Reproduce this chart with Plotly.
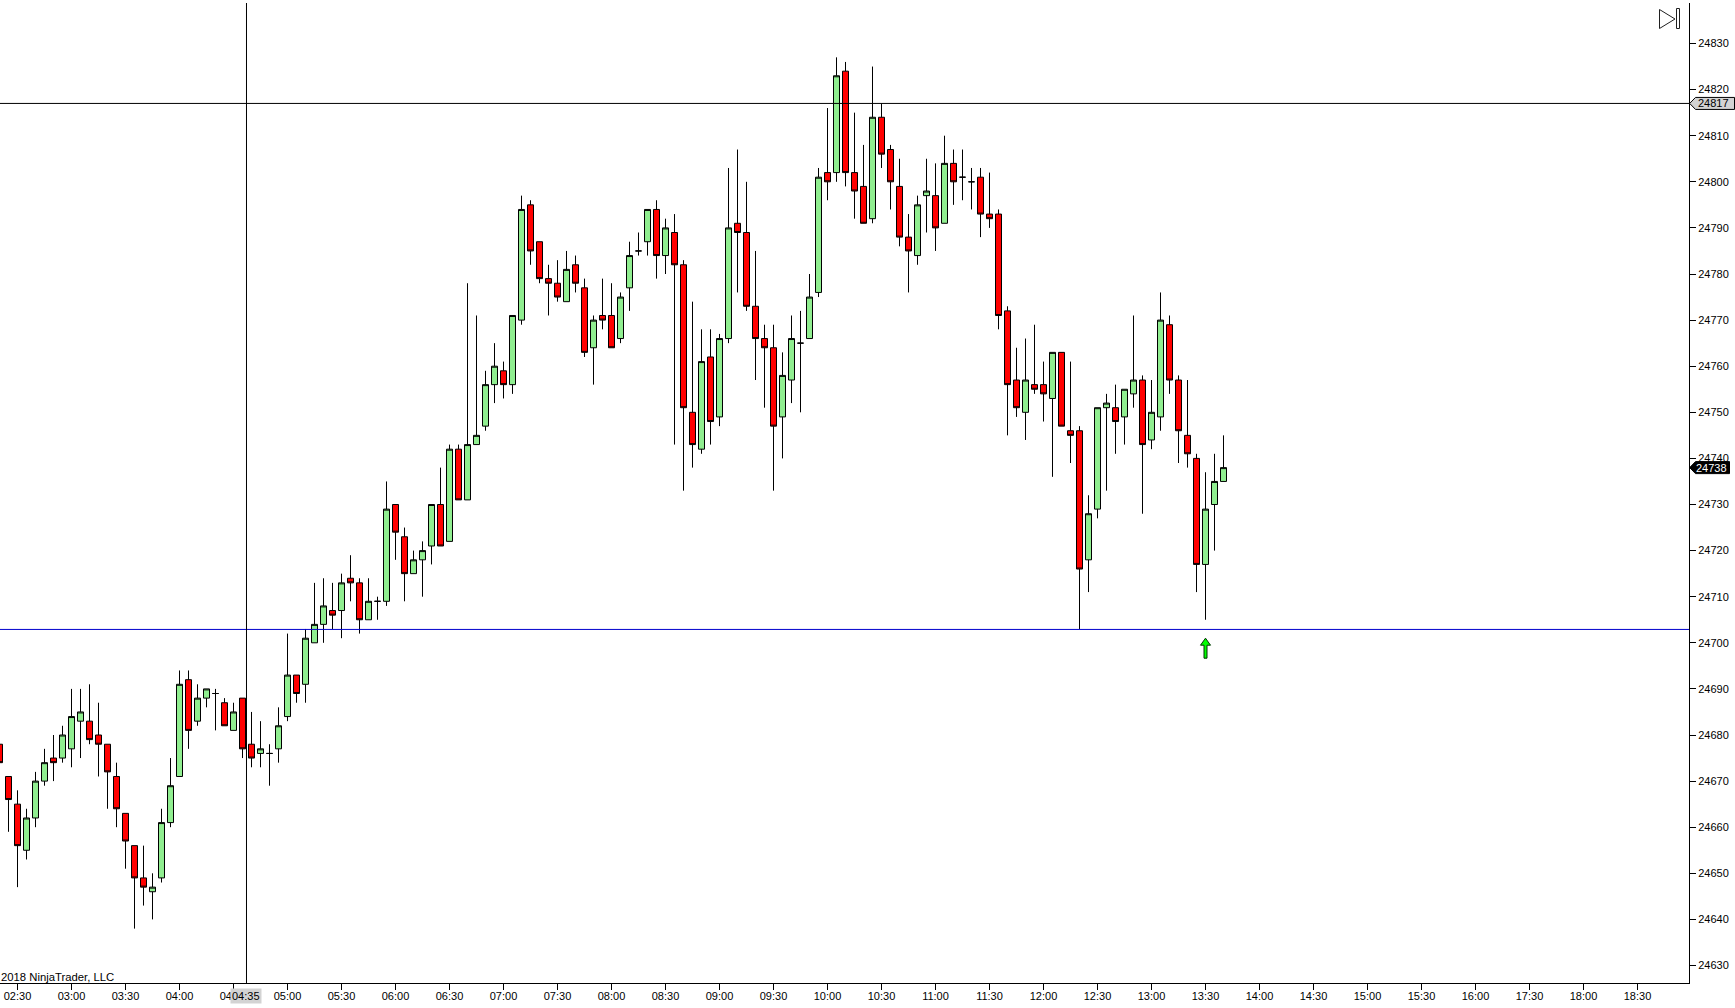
import pandas as pd
import plotly.graph_objects as go

# 5 minute bars, first bar 02:20, last bar 13:40
opens = [
    24678, 24671, 24665, 24655, 24662, 24670, 24675, 24675, 24677, 24683,
    24683, 24680, 24678, 24671, 24663, 24656, 24649, 24646, 24649, 24661,
    24671, 24692, 24683, 24688, 24689, 24687, 24681, 24688, 24678, 24676,
    24676, 24677, 24684, 24693, 24691, 24700, 24704, 24707, 24707, 24714,
    24713, 24705, 24709, 24709, 24730, 24723, 24715, 24718, 24721, 24730,
    24722, 24742, 24731, 24743, 24747, 24756, 24759, 24756, 24770, 24795,
    24787, 24779, 24778, 24774, 24782, 24777, 24764, 24771, 24771, 24766,
    24777, 24785, 24787, 24794, 24784, 24789, 24782, 24750, 24742, 24762,
    24749, 24766, 24791, 24789, 24773, 24766, 24764, 24749, 24757, 24765,
    24766, 24776, 24802, 24802, 24824, 24802, 24799, 24792, 24814, 24807,
    24799, 24788, 24784, 24797, 24797, 24791, 24804, 24801, 24800, 24801,
    24793, 24793, 24772, 24757, 24750, 24756, 24756, 24753, 24763, 24746,
    24746, 24718, 24729, 24751, 24751, 24749, 24754, 24757, 24744, 24749,
    24769, 24757, 24745, 24740, 24717, 24730, 24735,
]
highs = [
    24678, 24671, 24668, 24664, 24672, 24677, 24680, 24682, 24690, 24690,
    24691, 24687, 24678, 24674, 24663, 24656, 24656, 24650, 24664, 24675,
    24694, 24694, 24691, 24690, 24690, 24688, 24687, 24688, 24685, 24683,
    24678, 24686, 24702, 24693, 24703, 24713, 24714, 24713, 24715, 24719,
    24714, 24714, 24710, 24735, 24730, 24725, 24720, 24722, 24730, 24738,
    24743, 24743, 24778, 24771, 24759, 24765, 24761, 24771, 24797, 24796,
    24787, 24782, 24783, 24785, 24784, 24779, 24771, 24779, 24778, 24776,
    24787, 24789, 24794, 24796, 24792, 24793, 24783, 24774, 24768, 24768,
    24767, 24803, 24807, 24800, 24785, 24769, 24769, 24763, 24771, 24772,
    24780, 24803, 24816, 24827, 24826, 24815, 24808, 24825, 24817, 24808,
    24805, 24793, 24797, 24805, 24804, 24810, 24807, 24807, 24803, 24803,
    24802, 24794, 24773, 24764, 24766, 24769, 24761, 24763, 24763, 24761,
    24747, 24732, 24751, 24754, 24756, 24755, 24771, 24758, 24757, 24776,
    24771, 24758, 24757, 24741, 24737, 24741, 24745,
]
lows = [
    24674, 24659, 24647, 24653, 24660, 24669, 24670, 24674, 24673, 24675,
    24678, 24671, 24664, 24660, 24651, 24638, 24643, 24640, 24648, 24660,
    24671, 24677, 24682, 24686, 24681, 24682, 24681, 24675, 24673, 24673,
    24669, 24674, 24683, 24687, 24687, 24700, 24700, 24703, 24701, 24709,
    24702, 24705, 24705, 24708, 24718, 24709, 24715, 24710, 24717, 24721,
    24722, 24731, 24731, 24743, 24746, 24752, 24753, 24754, 24769, 24782,
    24778, 24771, 24774, 24774, 24776, 24762, 24756, 24768, 24764, 24765,
    24772, 24784, 24784, 24779, 24780, 24743, 24733, 24738, 24741, 24743,
    24747, 24765, 24776, 24772, 24757, 24751, 24733, 24740, 24752, 24750,
    24766, 24775, 24796, 24800, 24799, 24792, 24791, 24791, 24803, 24794,
    24786, 24776, 24782, 24789, 24785, 24791, 24795, 24796, 24794, 24788,
    24790, 24768, 24745, 24749, 24744, 24754, 24748, 24736, 24747, 24739,
    24703, 24711, 24727, 24733, 24741, 24743, 24751, 24728, 24742, 24746,
    24754, 24739, 24738, 24711, 24705, 24720, 24735,
]
closes = [
    24674, 24666, 24656, 24662, 24670, 24674, 24674, 24680, 24684, 24685,
    24679, 24678, 24672, 24664, 24657, 24649, 24647, 24647, 24661, 24669,
    24691, 24681, 24688, 24690, 24689, 24682, 24685, 24677, 24675, 24677,
    24676, 24682, 24693, 24689, 24701, 24704, 24708, 24706, 24713, 24713,
    24705, 24709, 24709, 24729, 24724, 24715, 24718, 24720, 24730, 24721,
    24742, 24731, 24743, 24745, 24756, 24760, 24756, 24771, 24794, 24785,
    24779, 24778, 24775, 24781, 24778, 24763, 24770, 24770, 24764, 24775,
    24784, 24785, 24794, 24784, 24790, 24782, 24751, 24743, 24761, 24748,
    24766, 24790, 24789, 24773, 24766, 24764, 24747, 24758, 24766, 24765,
    24775, 24801, 24800, 24823, 24802, 24798, 24791, 24814, 24806, 24800,
    24788, 24785, 24795, 24798, 24790, 24804, 24800, 24801, 24800, 24793,
    24792, 24771, 24756, 24751, 24757, 24755, 24754, 24763, 24747, 24745,
    24716, 24728, 24751, 24752, 24748, 24755, 24757, 24743, 24750, 24770,
    24757, 24746, 24741, 24717, 24729, 24735, 24738,
]

price_ticks = list(range(24630, 24831, 10))
time_ticks = [
    "02:30", "03:00", "03:30", "04:00", "04:30", "05:00", "05:30", "06:00",
    "06:30", "07:00", "07:30", "08:00", "08:30", "09:00", "09:30", "10:00",
    "10:30", "11:00", "11:30", "12:00", "12:30", "13:00", "13:30", "14:00",
    "14:30", "15:00", "15:30", "16:00", "17:30", "18:00", "18:30",
]

day = "2018-01-02 "
times = pd.date_range(day + "02:20", periods=len(opens), freq="5min")

crosshair_time = day + "04:37:13"
crosshair_label = "04:35"
crosshair_price = 24817
support_price = 24702.9
last_price = closes[-1]
signal_time = day + "13:30"
signal_price = 24701

fig = go.Figure()

fig.add_trace(go.Candlestick(
    x=times, open=opens, high=highs, low=lows, close=closes,
    increasing=dict(fillcolor="#90EE90", line=dict(color="black", width=1)),
    decreasing=dict(fillcolor="#FF0000", line=dict(color="black", width=1)),
    whiskerwidth=0,
    hoverinfo="skip",
    showlegend=False,
))

fig.update_xaxes(
    # 1.8 px per minute, so the wicks land on whole pixels
    range=[day + "02:20:16.667", day + "18:58:36.667"],
    rangeslider_visible=False,
    # the session break, the axis jumps from 16:00 to 17:30
    rangebreaks=[dict(bounds=[16.25, 17.25], pattern="hour")],
    tickvals=[day + t for t in time_ticks],
    ticktext=time_ticks,
    ticks="outside", ticklen=6, tickcolor="black", tickwidth=1,
    ticklabelstandoff=-3,
    showline=True, linecolor="black", linewidth=1,
    showgrid=False, zeroline=False,
    tickfont=dict(family="Liberation Sans", size=11, color="black"),
)
fig.update_yaxes(
    range=[24626.204, 24838.785],
    side="right",
    tickvals=price_ticks,
    tickformat="d",
    ticks="outside", ticklen=6, tickcolor="black", tickwidth=1,
    showline=True, linecolor="black", linewidth=1,
    showgrid=False, zeroline=False,
    tickfont=dict(family="Liberation Sans", size=11, color="black"),
)

# crosshair and support line
fig.add_shape(type="line", xref="paper", x0=0, x1=1, yref="y", y0=crosshair_price, y1=crosshair_price,
              line=dict(color="black", width=1))
fig.add_shape(type="line", xref="paper", x0=0, x1=1, yref="y", y0=support_price, y1=support_price,
              line=dict(color="#0000CD", width=1))
fig.add_shape(type="line", xref="x", x0=crosshair_time, x1=crosshair_time, yref="paper", y0=0, y1=1,
              line=dict(color="black", width=1))

# price tags on the right axis
fig.add_shape(type="path", xref="paper", yref="y", xsizemode="pixel", ysizemode="pixel",
              xanchor=1, yanchor=crosshair_price,
              path="M0.7,0 L6.5,6 L45.5,6 L45.5,-6 L6.5,-6 Z",
              fillcolor="#D3D3D3", line=dict(color="black", width=1))
fig.add_shape(type="path", xref="paper", yref="y", xsizemode="pixel", ysizemode="pixel",
              xanchor=1, yanchor=last_price,
              path="M0.7,0 L6.5,6 L40.5,6 L40.5,-6 L6.5,-6 Z",
              fillcolor="black", line=dict(color="black", width=1))

# buy arrow under the 13:30 bar
fig.add_shape(type="path", xref="x", yref="y", xsizemode="pixel", ysizemode="pixel",
              xanchor=signal_time, yanchor=signal_price,
              path="M0,0 L5,-7 L1.5,-7 L1.5,-20 L-1.5,-20 L-1.5,-7 L-5,-7 Z",
              fillcolor="#00FF00", line=dict(color="#003300", width=1))

# go to end of chart button
fig.add_shape(type="path", xref="paper", yref="paper", xsizemode="pixel", ysizemode="pixel",
              xanchor=1, yanchor=1, path="M-29.5,-6.5 L-14,-16 L-29.5,-25.5 Z",
              fillcolor="white", line=dict(color="#202020", width=1))
fig.add_shape(type="path", xref="paper", yref="paper", xsizemode="pixel", ysizemode="pixel",
              xanchor=1, yanchor=1, path="M-12.5,-5.5 L-9.5,-5.5 L-9.5,-25.5 L-12.5,-25.5 Z",
              fillcolor="white", line=dict(color="#202020", width=1))

font = dict(family="Liberation Sans", size=11, color="black")
fig.add_annotation(xref="paper", yref="y", x=1, y=crosshair_price, xanchor="left", xshift=8, borderpad=0,
                   text=str(crosshair_price), showarrow=False, font=font)
fig.add_annotation(xref="paper", yref="y", x=1, y=last_price, xanchor="left", xshift=6, borderpad=0,
                   text=str(last_price), showarrow=False, font=dict(font, color="white"))
fig.add_annotation(xref="x", yref="paper", x=crosshair_time, y=-0.01276, yanchor="middle", borderpad=1,
                   bgcolor="#D3D3D3", text=crosshair_label, showarrow=False, font=font)
fig.add_annotation(xref="paper", yref="paper", x=0, y=0.0064, xanchor="left", yanchor="middle", borderpad=0,
                   text="2018 NinjaTrader, LLC", showarrow=False, font=dict(font, size=11.3))

fig.update_layout(
    width=1735, height=1008,
    margin=dict(l=0, r=46, t=3, b=25),
    paper_bgcolor="white", plot_bgcolor="white",
    hovermode=False,
    dragmode=False,
    boxgap=1 / 3,
    boxgroupgap=0,
)

fig.write_html("out.html", config=dict(displayModeBar=False),
               post_script="document.body.style.margin='0';")
